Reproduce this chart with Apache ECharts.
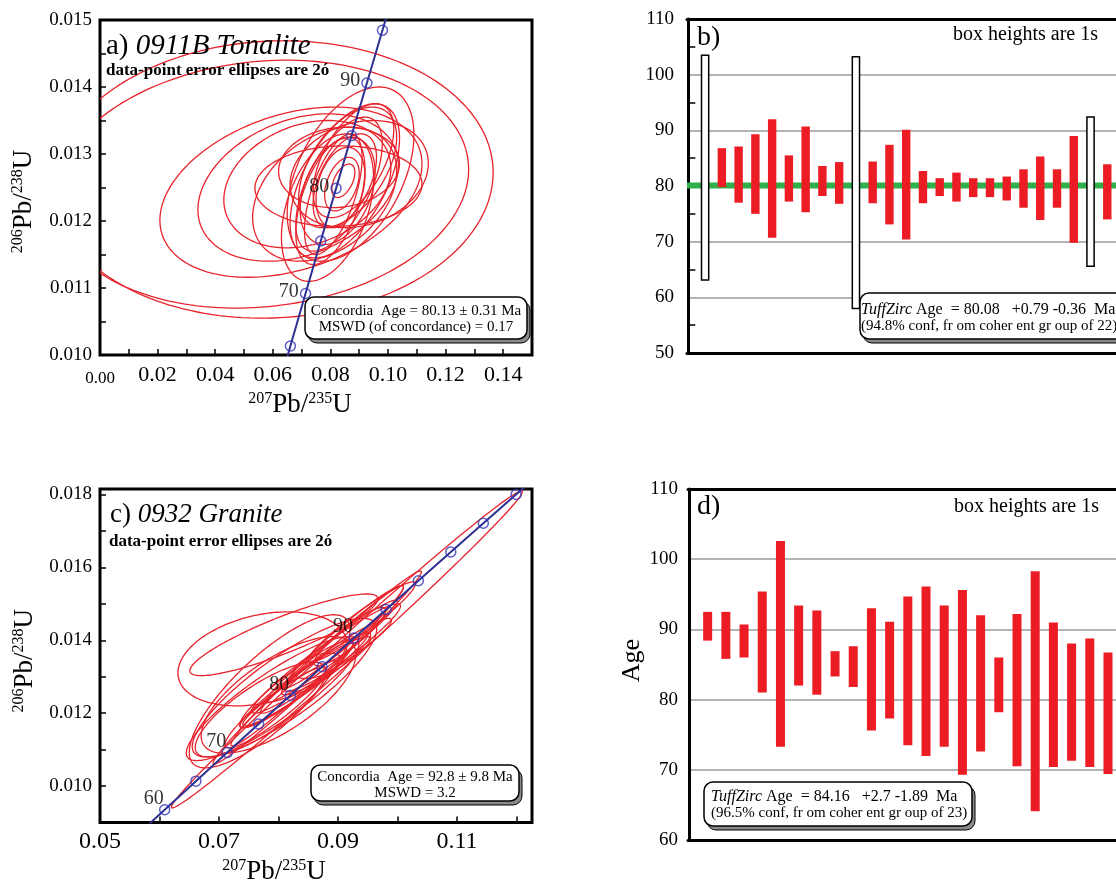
<!DOCTYPE html>
<html><head><meta charset="utf-8">
<script src="https://cdn.jsdelivr.net/npm/echarts@6/dist/echarts.min.js"></script>
<style>html,body{margin:0;padding:0;background:#fff}#c{width:1116px;height:886px}</style>
</head><body><div id="c"></div>
<script>
// ---------- DATA ----------
// Concordia reference points (age in Ma, 207Pb/235U, 206Pb/238U)
const concAge = [55, 60, 65, 70, 75, 80, 85, 90, 95, 100, 105, 110, 115, 120];
const concX = [0.05566, 0.06087, 0.06611, 0.07137, 0.07666, 0.08197, 0.08732, 0.09268, 0.09808, 0.10350, 0.10895, 0.11442, 0.11992, 0.12545];
const concY = [0.008568, 0.009351, 0.010134, 0.010918, 0.011702, 0.012487, 0.013273, 0.014059, 0.014846, 0.015633, 0.016422, 0.017210, 0.017999, 0.018789];
const circleAgesA = [65, 70, 75, 80, 85, 90, 95];
const labelAgesA = [70, 80, 90];
const circleAgesC = [60, 65, 70, 75, 80, 85, 90, 95, 100, 105, 110, 115];
const labelAgesC = [60, 70, 80, 90];

// Panel a error ellipses: centre x, centre y, half-width x, half-height y, correlation
const ellA_cx  = [0.060, 0.056, 0.0663, 0.0688, 0.072, 0.0828, 0.083, 0.078, 0.090, 0.085, 0.083, 0.086, 0.087, 0.080, 0.088, 0.0845, 0.084, 0.0835, 0.085, 0.0825, 0.081, 0.079];
const ellA_cy  = [0.01262, 0.01255, 0.01243, 0.0125, 0.01255, 0.01252, 0.0128, 0.0124, 0.0127, 0.0126, 0.01255, 0.0128, 0.0127, 0.0123, 0.0129, 0.0126, 0.01255, 0.0125, 0.0126, 0.01245, 0.0124, 0.0122];
const ellA_sx  = [0.0765, 0.072, 0.0455, 0.0348, 0.029, 0.029, 0.021, 0.025, 0.024, 0.019, 0.015, 0.017, 0.022, 0.012, 0.014, 0.004, 0.006, 0.0085, 0.011, 0.013, 0.010, 0.016];
const ellA_sy  = [0.00207, 0.00185, 0.00127, 0.0011, 0.00095, 0.0006, 0.0006, 0.0010, 0.0008, 0.00115, 0.0010, 0.0009, 0.0013, 0.00095, 0.00085, 0.00025, 0.0004, 0.0006, 0.0007, 0.0008, 0.0009, 0.0011];
const ellA_rho = [0.05, 0.12, 0.33, 0.30, 0.25, 0.05, 0.10, 0.35, 0.20, 0.55, 0.60, 0.50, 0.45, 0.50, 0.55, 0.5, 0.4, 0.3, 0.5, 0.35, 0.6, 0.4];

// Panel c error ellipses
const ellC_cx  = [0.0773, 0.0809, 0.079, 0.081, 0.077, 0.0785, 0.080, 0.082, 0.086, 0.088, 0.090, 0.0845, 0.0865, 0.092, 0.089, 0.0915, 0.0865, 0.0865, 0.091, 0.094, 0.083, 0.0795, 0.088];
const ellC_cy  = [0.01349, 0.01415, 0.0124, 0.0127, 0.0121, 0.0126, 0.0125, 0.01255, 0.0131, 0.0133, 0.0136, 0.0129, 0.0133, 0.0141, 0.0137, 0.01375, 0.01325, 0.0133, 0.0141, 0.0145, 0.0128, 0.01215, 0.0135];
const ellC_sx  = [0.0142, 0.0158, 0.0145, 0.0155, 0.011, 0.0135, 0.013, 0.008, 0.009, 0.0075, 0.009, 0.011, 0.004, 0.006, 0.011, 0.0295, 0.0175, 0.0145, 0.010, 0.009, 0.0095, 0.0085, 0.0125];
const ellC_sy  = [0.00129, 0.00112, 0.0017, 0.0019, 0.0013, 0.0021, 0.0016, 0.0009, 0.0011, 0.0008, 0.0010, 0.0013, 0.00035, 0.0008, 0.0014, 0.00435, 0.00265, 0.0022, 0.0014, 0.0011, 0.0012, 0.0011, 0.0015];
const ellC_rho = [0.30, 0.88, 0.88, 0.85, 0.80, 0.80, 0.70, 0.95, 0.96, 0.93, 0.95, 0.96, 0.5, 0.9, 0.97, 0.995, 0.99, 0.985, 0.97, 0.95, 0.93, 0.92, 0.96];

// Panel b: box tops/bottoms (Ma), rejected analyses (white boxes), TuffZirc age
const bTop    = [103.5, 86.8, 87.1, 89.3, 92.0, 85.5, 90.7, 83.6, 84.3, 103.2, 84.4, 87.4, 90.1, 82.7, 81.4, 82.4, 81.4, 81.4, 81.7, 83.0, 85.3, 83.0, 89.0, 92.4, 83.9];
const bBottom = [63.1, 79.8, 77.0, 75.0, 70.7, 77.2, 75.3, 78.2, 76.8, 58.0, 76.9, 73.1, 70.4, 76.9, 78.2, 77.2, 78.0, 78.0, 77.4, 76.1, 73.9, 76.1, 69.8, 65.6, 74.0];
const bRejected = [1, 10, 24];
const tuffAgeB = 80.08;

// Panel d
const dTop    = [92.5, 92.5, 90.7, 95.4, 102.6, 93.4, 92.7, 86.9, 87.6, 93.0, 91.1, 94.7, 96.1, 93.4, 95.6, 92.0, 86.0, 92.2, 98.3, 91.0, 88.0, 88.7, 86.7];
const dBottom = [88.4, 85.8, 86.0, 81.0, 73.3, 82.0, 80.7, 83.3, 81.8, 75.6, 77.3, 73.5, 71.95, 73.3, 69.3, 72.6, 78.2, 70.5, 64.1, 70.4, 71.3, 70.4, 69.4];

// ---------- CHART ----------
const F = "'Liberation Serif', 'Times New Roman', serif";
const RED = '#ec1c24';
const chart = echarts.init(document.getElementById('c'), null, {renderer: 'canvas'});

function ellipseItems(cx, cy, sx, sy, rho) {
  return cx.map((v, i) => [v, cy[i], sx[i], sy[i], rho[i]]);
}
function renderEllipse(params, api) {
  const cx = api.value(0), cy = api.value(1), a = api.value(2), b = api.value(3), r = api.value(4);
  const s = Math.sqrt(1 - r * r);
  const pts = [];
  for (let k = 0; k <= 180; k++) {
    const t = k / 180 * 2 * Math.PI;
    pts.push(api.coord([cx + a * Math.cos(t), cy + b * (r * Math.cos(t) + s * Math.sin(t))]));
  }
  return {type: 'polyline', shape: {points: pts}, style: {fill: null, stroke: '#e8232b', lineWidth: 1.3}};
}
function renderBox(w) {
  return function (params, api) {
    const x = api.value(0), lo = api.value(1), hi = api.value(2), rej = api.value(3);
    const p1 = api.coord([x, hi]), p2 = api.coord([x, lo]);
    if (rej) {
      return {type: 'rect', shape: {x: p1[0] - 3.6, y: p1[1], width: 7.2, height: p2[1] - p1[1]},
        style: {fill: '#fff', stroke: '#000', lineWidth: 1.5}};
    }
    return {type: 'rect', shape: {x: p1[0] - w / 2, y: p1[1], width: w, height: p2[1] - p1[1]},
      style: {fill: RED, stroke: null}};
  };
}
function concLine() { return concAge.map((a, i) => [concX[i], concY[i]]); }
function concCircles(ages) {
  return ages.map(a => { const i = concAge.indexOf(a); return [concX[i], concY[i], a]; });
}
const nameRich = {
  m: {fontSize: 27, fontFamily: F, color: '#000', lineHeight: 28},
  p: {fontSize: 16, fontFamily: F, color: '#000', verticalAlign: 'top', lineHeight: 16}
};
const tickStyle = {color: '#000', width: 1.5};
const frameLine = {show: true, lineStyle: {color: '#000', width: 3}};
const barX = (gi, min, max, pos) => ({gridIndex: gi, type: 'value', min: min, max: max, position: pos,
  axisLine: frameLine, axisTick: {show: false}, axisLabel: {show: false}, splitLine: {show: false}});
const circleStyle = {color: 'rgba(255,255,255,0)', borderColor: '#3434b4', borderWidth: 1.5};

const option = {
  animation: false,
  backgroundColor: '#fff',
  grid: [
    {left: 100, top: 20, width: 432, height: 335, show: true, borderColor: '#000', borderWidth: 3, backgroundColor: '#fff'},
    {left: 687, top: 19, width: 429, height: 334, show: true, borderWidth: 0, backgroundColor: '#fff'},
    {left: 100, top: 489, width: 432, height: 337, show: true, borderColor: '#000', borderWidth: 3, backgroundColor: '#fff'},
    {left: 688, top: 489, width: 428, height: 351, show: true, borderWidth: 0, backgroundColor: '#fff'}
  ],
  xAxis: [
    {gridIndex: 0, type: 'value', min: 0, max: 0.15, interval: 0.01,
      axisLine: {show: false}, splitLine: {show: false},
      axisTick: {inside: true, length: 6, lineStyle: tickStyle},
      axisLabel: {fontSize: 22, fontFamily: F, color: '#000', margin: 9, showMaxLabel: false,
        formatter: v => { const k = Math.round(v * 100); if (k % 2) return ''; return k === 0 ? '{s|0.00}' : v.toFixed(2); },
        rich: {s: {fontSize: 17, fontFamily: F, color: '#000', lineHeight: 29}}},
      name: '{p|207}{m|Pb/}{p|235}{m|U}', nameLocation: 'middle', nameGap: 36,
      nameTextStyle: {rich: nameRich, padding: [0, 32, 0, 0]}},
    barX(1, -0.08, 25.52, 'bottom'),
    {gridIndex: 2, type: 'value', min: 0.05, max: 0.1226, interval: 0.01,
      axisLine: {show: false}, splitLine: {show: false},
      axisTick: {inside: true, length: 6, lineStyle: tickStyle},
      axisLabel: {fontSize: 24, fontFamily: F, color: '#000', margin: 7, showMaxLabel: false,
        formatter: v => (Math.round(v * 100) % 2 === 1 ? v.toFixed(2) : '')},
      name: '{p|207}{m|Pb/}{p|235}{m|U}', nameLocation: 'middle', nameGap: 35,
      nameTextStyle: {rich: nameRich, padding: [0, 84, 0, 0]}},
    barX(3, -0.08, 23.44, 'bottom'),
    barX(1, -0.08, 25.52, 'top'),
    barX(3, -0.08, 23.44, 'top')
  ],
  yAxis: [
    {gridIndex: 0, type: 'value', min: 0.010, max: 0.015, interval: 0.0005,
      axisLine: {show: false}, splitLine: {show: false},
      axisTick: {inside: true, length: 6, lineStyle: tickStyle},
      axisLabel: {fontSize: 19, fontFamily: F, color: '#000', margin: 8,
        formatter: v => (Math.round(v * 10000) % 10 === 0 ? v.toFixed(3) : '')},
      name: '{p|206}{m|Pb/}{p|238}{m|U}', nameLocation: 'middle', nameGap: 62, nameRotate: 90,
      nameTextStyle: {rich: nameRich, padding: [0, 28, 0, 0]}},
    {gridIndex: 1, type: 'value', min: 50, max: 110, interval: 10,
      axisLine: frameLine,
      axisTick: {show: false, inside: true},
      minorTick: {show: true, splitNumber: 2, length: 7, lineStyle: tickStyle},
      splitLine: {show: true, showMinLine: false, showMaxLine: false, lineStyle: {color: '#9a9a9a', width: 1.5}},
      axisLabel: {fontSize: 19, fontFamily: F, color: '#000', margin: 13}},
    {gridIndex: 2, type: 'value', min: 0.009, max: 0.01815, interval: 0.001,
      axisLine: {show: false}, splitLine: {show: false},
      axisTick: {inside: true, length: 6, lineStyle: tickStyle},
      axisLabel: {fontSize: 19, fontFamily: F, color: '#000', margin: 8, showMaxLabel: false,
        formatter: v => (Math.round(v * 1000) % 2 === 0 ? v.toFixed(3) : '')},
      name: '{p|206}{m|Pb/}{p|238}{m|U}', nameLocation: 'middle', nameGap: 61, nameRotate: 90,
      nameTextStyle: {rich: nameRich, padding: [0, 10, 0, 0]}},
    {gridIndex: 3, type: 'value', min: 60, max: 110, interval: 10,
      axisLine: frameLine, axisTick: {show: false},
      splitLine: {show: true, showMinLine: false, showMaxLine: false, lineStyle: {color: '#9a9a9a', width: 1.5}},
      axisLabel: {fontSize: 19, fontFamily: F, color: '#000', margin: 10},
      name: 'Age', nameLocation: 'middle', nameGap: 43, nameRotate: 90,
      nameTextStyle: {fontSize: 26, fontFamily: F, color: '#000', padding: [0, 0, 0, 8]}}
  ],
  series: [
    // panel a
    {type: 'custom', xAxisIndex: 0, yAxisIndex: 0, clip: true, silent: true, z: 2,
      renderItem: renderEllipse, encode: {x: 0, y: 1},
      data: ellipseItems(ellA_cx, ellA_cy, ellA_sx, ellA_sy, ellA_rho)},
    {type: 'line', xAxisIndex: 0, yAxisIndex: 0, clip: true, silent: true, z: 3, showSymbol: false,
      lineStyle: {color: '#2e3192', width: 2}, data: concLine()},
    {type: 'scatter', xAxisIndex: 0, yAxisIndex: 0, silent: true, z: 4, symbol: 'circle', symbolSize: 10,
      itemStyle: circleStyle,
      label: {show: true, position: 'left', distance: 1, offset: [0, -2], fontSize: 20, fontFamily: F, color: '#000',
        formatter: p => (labelAgesA.includes(p.data[2]) ? String(p.data[2]) : '')},
      data: concCircles(circleAgesA)},
    // panel b
    {type: 'line', xAxisIndex: 1, yAxisIndex: 1, silent: true, z: 1, showSymbol: false,
      lineStyle: {color: '#2fb04b', width: 6}, data: [[-0.08, tuffAgeB], [25.52, tuffAgeB]]},
    {type: 'custom', xAxisIndex: 1, yAxisIndex: 1, silent: true, z: 3, renderItem: renderBox(8.4),
      encode: {x: 0, y: [1, 2]},
      data: bTop.map((t, i) => [i + 1, bBottom[i], t, bRejected.includes(i + 1) ? 1 : 0])},
    // panel c
    {type: 'custom', xAxisIndex: 2, yAxisIndex: 2, clip: true, silent: true, z: 2,
      renderItem: renderEllipse, encode: {x: 0, y: 1},
      data: ellipseItems(ellC_cx, ellC_cy, ellC_sx, ellC_sy, ellC_rho)},
    {type: 'line', xAxisIndex: 2, yAxisIndex: 2, clip: true, silent: true, z: 3, showSymbol: false,
      lineStyle: {color: '#2e3192', width: 2}, data: concLine()},
    {type: 'scatter', xAxisIndex: 2, yAxisIndex: 2, silent: true, z: 4, symbol: 'circle', symbolSize: 10,
      itemStyle: circleStyle,
      label: {show: true, position: 'inside', offset: [-11, -11], fontSize: 20, fontFamily: F, color: '#000',
        formatter: p => (labelAgesC.includes(p.data[2]) ? String(p.data[2]) : '')},
      data: concCircles(circleAgesC)},
    // panel d
    {type: 'custom', xAxisIndex: 3, yAxisIndex: 3, silent: true, z: 3, renderItem: renderBox(9),
      encode: {x: 0, y: [1, 2]},
      data: dTop.map((t, i) => [i + 1, dBottom[i], t, 0])}
  ],
  graphic: [
    // panel a
    {type: 'text', x: 106, y: 46, z: 100, style: {text: '{n|a) }{i|0911B Tonalite}', verticalAlign: 'middle', align: 'left',
      rich: {n: {fontSize: 29, fontFamily: F, fill: '#000'}, i: {fontSize: 29, fontFamily: F, fontStyle: 'italic', fill: '#000'}}}},
    {type: 'text', x: 106, y: 71, z: 100, style: {text: 'data-point error ellipses are 2ó', fontSize: 17, fontWeight: 'bold', fontFamily: F, fill: '#000', verticalAlign: 'middle'}},
    {type: 'rect', z: 100, shape: {x: 308, y: 301, width: 222, height: 42, r: 9}, style: {fill: '#8a8a8a', stroke: '#000', lineWidth: 1}},
    {type: 'rect', z: 101, shape: {x: 305, y: 297, width: 222, height: 42, r: 9}, style: {fill: '#fff', stroke: '#000', lineWidth: 1.5}},
    {type: 'text', x: 416, y: 311, z: 102, style: {text: 'Concordia  Age = 80.13 ± 0.31 Ma', fontSize: 15, fontFamily: F, fill: '#000', align: 'center', verticalAlign: 'middle'}},
    {type: 'text', x: 416, y: 327, z: 102, style: {text: 'MSWD (of concordance) = 0.17', fontSize: 15, fontFamily: F, fill: '#000', align: 'center', verticalAlign: 'middle'}},
    // panel b
    {type: 'text', x: 697, y: 38, z: 100, style: {text: 'b)', fontSize: 28, fontFamily: F, fill: '#000', verticalAlign: 'middle'}},
    {type: 'text', x: 953, y: 35, z: 100, style: {text: 'box heights are 1s', fontSize: 20, fontFamily: F, fill: '#000', verticalAlign: 'middle'}},
    {type: 'rect', z: 100, shape: {x: 863, y: 297, width: 280, height: 46, r: 9}, style: {fill: '#8a8a8a', stroke: '#000', lineWidth: 1}},
    {type: 'rect', z: 101, shape: {x: 860, y: 293, width: 280, height: 46, r: 9}, style: {fill: '#fff', stroke: '#000', lineWidth: 1.5}},
    {type: 'text', x: 861, y: 310, z: 102, style: {text: '{i|TuffZirc}{n| Age  = 80.08   +0.79 -0.36  Ma}', verticalAlign: 'middle',
      rich: {i: {fontSize: 16, fontFamily: F, fontStyle: 'italic', fill: '#000'}, n: {fontSize: 16, fontFamily: F, fill: '#000'}}}},
    {type: 'text', x: 861, y: 326, z: 102, style: {text: '(94.8% conf, fr om coher ent gr oup of 22)', fontSize: 15, fontFamily: F, fill: '#000', verticalAlign: 'middle'}},
    // panel c
    {type: 'text', x: 110, y: 515, z: 100, style: {text: '{n|c) }{i|0932 Granite}', verticalAlign: 'middle', align: 'left',
      rich: {n: {fontSize: 27, fontFamily: F, fill: '#000'}, i: {fontSize: 27, fontFamily: F, fontStyle: 'italic', fill: '#000'}}}},
    {type: 'text', x: 109, y: 542, z: 100, style: {text: 'data-point error ellipses are 2ó', fontSize: 17, fontWeight: 'bold', fontFamily: F, fill: '#000', verticalAlign: 'middle'}},
    {type: 'rect', z: 100, shape: {x: 314, y: 769, width: 208, height: 36, r: 9}, style: {fill: '#8a8a8a', stroke: '#000', lineWidth: 1}},
    {type: 'rect', z: 101, shape: {x: 311, y: 765, width: 208, height: 36, r: 9}, style: {fill: '#fff', stroke: '#000', lineWidth: 1.5}},
    {type: 'text', x: 415, y: 777, z: 102, style: {text: 'Concordia  Age = 92.8 ± 9.8 Ma', fontSize: 15, fontFamily: F, fill: '#000', align: 'center', verticalAlign: 'middle'}},
    {type: 'text', x: 415, y: 793, z: 102, style: {text: 'MSWD = 3.2', fontSize: 15, fontFamily: F, fill: '#000', align: 'center', verticalAlign: 'middle'}},
    // panel d
    {type: 'text', x: 697, y: 507, z: 100, style: {text: 'd)', fontSize: 28, fontFamily: F, fill: '#000', verticalAlign: 'middle'}},
    {type: 'text', x: 954, y: 507, z: 100, style: {text: 'box heights are 1s', fontSize: 20, fontFamily: F, fill: '#000', verticalAlign: 'middle'}},
    {type: 'rect', z: 100, shape: {x: 707, y: 786, width: 268, height: 44, r: 9}, style: {fill: '#8a8a8a', stroke: '#000', lineWidth: 1}},
    {type: 'rect', z: 101, shape: {x: 704, y: 782, width: 268, height: 44, r: 9}, style: {fill: '#fff', stroke: '#000', lineWidth: 1.5}},
    {type: 'text', x: 711, y: 797, z: 102, style: {text: '{i|TuffZirc}{n| Age  = 84.16   +2.7 -1.89  Ma}', verticalAlign: 'middle',
      rich: {i: {fontSize: 16, fontFamily: F, fontStyle: 'italic', fill: '#000'}, n: {fontSize: 16, fontFamily: F, fill: '#000'}}}},
    {type: 'text', x: 711, y: 813, z: 102, style: {text: '(96.5% conf, fr om coher ent gr oup of 23)', fontSize: 15, fontFamily: F, fill: '#000', verticalAlign: 'middle'}}
  ]
};
chart.setOption(option);
</script></body></html>
